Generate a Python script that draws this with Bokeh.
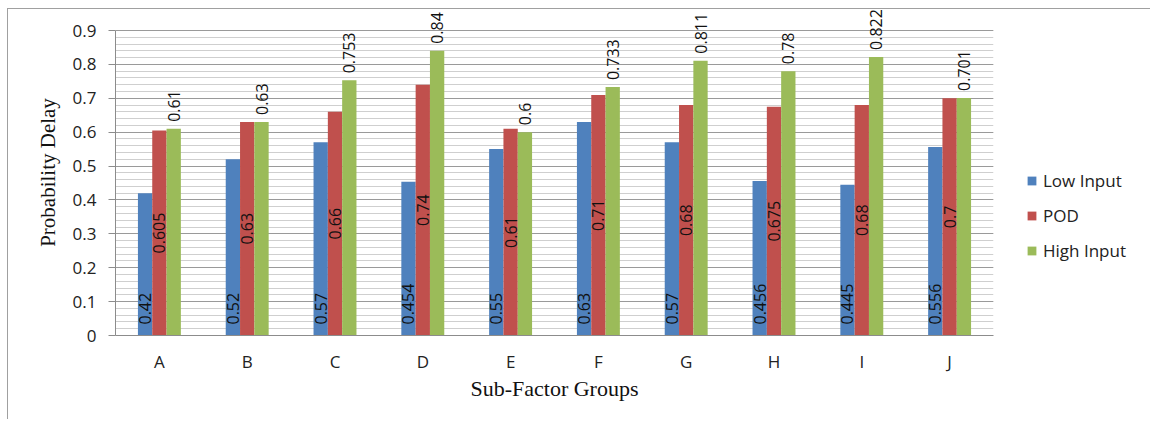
from math import pi
from bokeh.plotting import figure
from bokeh.models import (ColumnDataSource, Range1d, FixedTicker, Legend, LegendItem)
from bokeh.transform import dodge
from bokeh.core.properties import value
from bokeh.embed import file_html
from bokeh.resources import INLINE

categories = ["A", "B", "C", "D", "E", "F", "G", "H", "I", "J"]
low_input = [0.42, 0.52, 0.57, 0.454, 0.55, 0.63, 0.57, 0.456, 0.445, 0.556]
pod = [0.605, 0.63, 0.66, 0.74, 0.61, 0.71, 0.68, 0.675, 0.68, 0.7]
high_input = [0.61, 0.63, 0.753, 0.84, 0.6, 0.733, 0.811, 0.78, 0.822, 0.701]
series_names = ["Low Input", "POD", "High Input"]
y_ticks = [0, 0.1, 0.2, 0.3, 0.4, 0.5, 0.6, 0.7, 0.8, 0.9]
y_tick_labels = ["0", "0.1", "0.2", "0.3", "0.4", "0.5", "0.6", "0.7", "0.8", "0.9"]

colors = ["#4F81BD", "#C0504D", "#9BBB59"]
BW = 0.163

src = ColumnDataSource(dict(
    cat=categories,
    low=low_input, pod=pod, high=high_input,
    pod_mid=[v / 2 for v in pod],
    zero=[0] * len(categories),
    low_t=[str(v) for v in low_input],
    pod_t=[str(v) for v in pod],
    high_t=[str(v) for v in high_input],
))

p = figure(x_range=categories, y_range=Range1d(0, 0.962),
           frame_width=878, frame_height=326,
           min_border_left=107, min_border_right=157,
           min_border_top=0, min_border_bottom=84,
           output_backend="svg", toolbar_location=None)
p.styles = {"border-top": "1px solid #a0a0a0", "border-left": "1px solid #a0a0a0",
            "margin-left": "7px", "margin-top": "8px"}
p.outline_line_color = None
p.background_fill_color = "white"

r_low = p.vbar(x=dodge("cat", -BW, range=p.x_range), top="low", width=BW,
               source=src, fill_color=colors[0], line_color=None)
r_pod = p.vbar(x=dodge("cat", 0, range=p.x_range), top="pod", width=BW,
               source=src, fill_color=colors[1], line_color=None)
r_high = p.vbar(x=dodge("cat", BW, range=p.x_range), top="high", width=BW,
                source=src, fill_color=colors[2], line_color=None)

lab_font = value("Open Sans")
p.text(x=dodge("cat", -BW, range=p.x_range), y="zero", text="low_t", angle=pi / 2,
       text_align="left", text_baseline="middle", y_offset=-11,
       text_font=lab_font, text_font_size="16px", text_color="#111", source=src)
p.text(x=dodge("cat", 0, range=p.x_range), y="pod_mid", text="pod_t", angle=pi / 2,
       text_align="center", text_baseline="middle",
       text_font=lab_font, text_font_size="16px", text_color="#111", source=src)
p.text(x=dodge("cat", BW, range=p.x_range), y="high", text="high_t", angle=pi / 2,
       text_align="left", text_baseline="middle", y_offset=-7,
       text_font=lab_font, text_font_size="16px", text_color="#111", source=src)

# axes
minor = [i / 50 for i in range(46)]
p.yaxis.ticker = FixedTicker(ticks=y_ticks, minor_ticks=minor)
p.yaxis.bounds = (0, 0.9)
p.ygrid.bounds = (0, 0.9)
p.yaxis.major_label_overrides = {t: l for t, l in zip(y_ticks, y_tick_labels)}
p.yaxis.axis_label = "Probability Delay"
p.yaxis.axis_label_text_font = "Liberation Serif"
p.yaxis.axis_label_text_font_size = "21px"
p.yaxis.axis_label_text_font_style = "normal"
p.yaxis.axis_label_text_color = "#111"
p.yaxis.axis_label_standoff = 10
p.yaxis.major_label_text_font = "Open Sans"
p.yaxis.major_label_text_font_size = "17px"
p.yaxis.major_label_text_color = "#222"
p.yaxis.major_label_standoff = 12
p.yaxis.major_tick_out = 7
p.yaxis.major_tick_in = 0
p.yaxis.minor_tick_out = 0
p.yaxis.minor_tick_in = 0
p.yaxis.axis_line_color = "#8c8c8c"
p.yaxis.major_tick_line_color = "#8c8c8c"

p.xaxis.axis_label = "Sub-Factor Groups"
p.xaxis.axis_label_text_font = "Liberation Serif"
p.xaxis.axis_label_text_font_size = "22px"
p.xaxis.axis_label_text_font_style = "normal"
p.xaxis.axis_label_text_color = "#111"
p.xaxis.axis_label_standoff = 0
p.xaxis.major_label_text_font = "Open Sans"
p.xaxis.major_label_text_font_size = "17px"
p.xaxis.major_label_text_color = "#222"
p.xaxis.major_label_standoff = 14
p.xaxis.major_tick_out = 0
p.xaxis.major_tick_in = 0
p.xaxis.axis_line_color = "#8c8c8c"

p.xgrid.grid_line_color = None
p.ygrid.grid_line_color = "#9a9a9a"
p.ygrid.minor_grid_line_color = "#cfcfcf"

legend = Legend(items=[LegendItem(label=series_names[0], renderers=[r_low]),
                       LegendItem(label=series_names[1], renderers=[r_pod]),
                       LegendItem(label=series_names[2], renderers=[r_high])],
                location=(33, 73), orientation="vertical",
                label_text_font="Open Sans", label_text_font_size="17px",
                label_text_color="#222",
                glyph_width=11, glyph_height=11, label_standoff=6,
                label_height=20, spacing=12, padding=0, margin=0,
                border_line_color=None, background_fill_alpha=0)
p.add_layout(legend, "right")

open("out.html", "w").write(file_html(p, INLINE))
